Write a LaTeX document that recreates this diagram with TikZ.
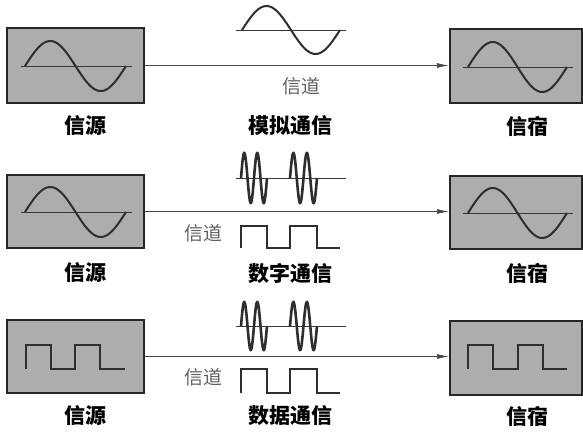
\documentclass[tikz,border=0pt]{standalone}
\usepackage{fontspec}
\newfontfamily\cjk{Noto Sans CJK SC}
\usetikzlibrary{arrows.meta}
\begin{document}
\begin{tikzpicture}[x=1pt,y=-1pt,
  box/.style={draw=black!85, line width=2.2pt, fill=gray!64, inner sep=0pt},
  wave/.style={line width=2pt, draw=black!82},
  burst/.style={line width=2.6pt, draw=black!82},
  sq/.style={line width=1.5pt, draw=black!82},
  axisline/.style={line width=0.9pt, draw=black!78},
  conn/.style={line width=0.8pt, draw=black!72, -{Latex[length=12pt,width=5pt]}},
  lab/.style={font=\cjk\bfseries\fontsize{21}{25}\selectfont},
  chan/.style={font=\cjk\fontsize{19}{22}\selectfont, text=black!62}]
\useasboundingbox (0,0) rectangle (583,431);

% ---------- row 1: analog ----------
\node (s1) [box, minimum width=137pt, minimum height=75pt] at (75.5,65.5) {};
\node (d1) [box, minimum width=132pt, minimum height=74pt] at (516,66) {};
\draw[conn] (s1.east) -- (s1.east -| d1.west);
\draw[axisline] (21,66) -- (132,66);
\draw[wave] plot[domain=0:360, samples=60] ({25+\x/360*101},{66-25*sin(\x)});
\draw[axisline] (463,67) -- (573,67);
\draw[wave] plot[domain=0:360, samples=60] ({468+\x/360*99},{67-25*sin(\x)});
\draw[axisline] (236,30) -- (346,30);
\draw[wave] plot[domain=0:360, samples=60] ({242+\x/360*98},{30-24*sin(\x)});
\node (c1) [chan] at (301,86) {信道};
\node (l1a) [lab] at (85,126) {信源};
\node (l1b) [lab] at (290,126) {模拟通信};
\node (l1c) [lab] at (527,126) {信宿};

% ---------- row 2: digital ----------
\node (s2) [box, minimum width=137pt, minimum height=73pt] at (75.5,211.5) {};
\node (d2) [box, minimum width=132pt, minimum height=73pt] at (516,212.5) {};
\draw[conn] (s2.east) -- (s2.east -| d2.west);
\draw[axisline] (21,212) -- (132,212);
\draw[wave] plot[domain=0:360, samples=60] ({25+\x/360*101},{212-25*sin(\x)});
\draw[axisline] (463,213) -- (573,213);
\draw[wave] plot[domain=0:360, samples=60] ({468+\x/360*99},{213-25*sin(\x)});
\draw[axisline] (236,178) -- (346,178);
\draw[burst] plot[domain=0:720, samples=90] ({241+\x/720*26},{178-25*sin(\x)});
\draw[burst] plot[domain=0:720, samples=90] ({290+\x/720*27},{178-25*sin(\x)});
\draw[sq] (241,248) -- (241,226) -- (267,226) -- (267,248) -- (290,248) -- (290,226) -- (317,226) -- (317,248) -- (340,248);
\node (c2) [chan] at (203,233) {信道};
\node (l2a) [lab] at (85,273) {信源};
\node (l2b) [lab] at (290,273) {数字通信};
\node (l2c) [lab] at (527,273) {信宿};

% ---------- row 3: data ----------
\node (s3) [box, minimum width=137pt, minimum height=73pt] at (75.5,356.5) {};
\node (d3) [box, minimum width=132pt, minimum height=74pt] at (516,358) {};
\draw[conn] (s3.east) -- (s3.east -| d3.west);
\draw[wave] (26,369) -- (26,345) -- (51,345) -- (51,369) -- (75,369) -- (75,345) -- (100,345) -- (100,369) -- (125,369);
\draw[wave] (468,369) -- (468,345) -- (493,345) -- (493,369) -- (518,369) -- (518,345) -- (543,345) -- (543,369) -- (567,369);
\draw[axisline] (236,326) -- (346,326);
\draw[burst] plot[domain=0:720, samples=90] ({241+\x/720*26},{326-24*sin(\x)});
\draw[burst] plot[domain=0:720, samples=90] ({290+\x/720*27},{326-24*sin(\x)});
\draw[sq] (241,393) -- (241,369) -- (267,369) -- (267,393) -- (290,393) -- (290,369) -- (317,369) -- (317,393) -- (340,393);
\node (c3) [chan] at (203,377) {信道};
\node (l3a) [lab] at (85,416) {信源};
\node (l3b) [lab] at (290,416) {数据通信};
\node (l3c) [lab] at (527,416) {信宿};
\end{tikzpicture}
\end{document}
